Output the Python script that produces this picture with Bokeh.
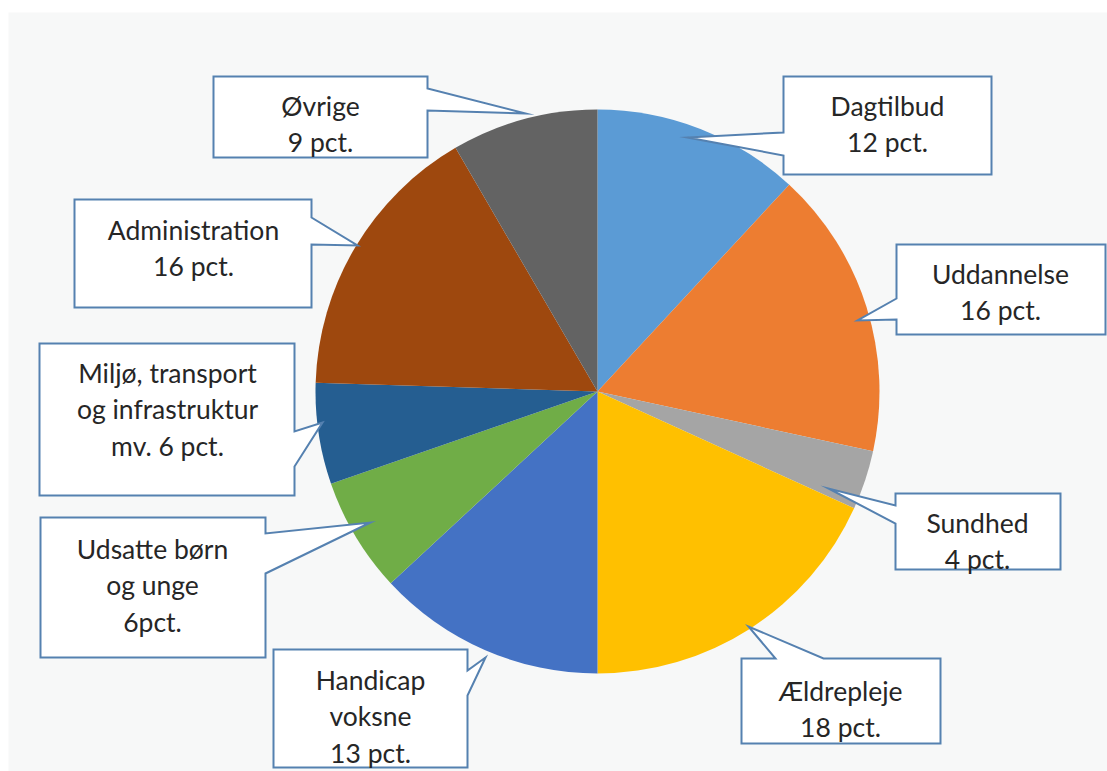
import math
from bokeh.plotting import figure
from bokeh.models import Range1d, ColumnDataSource
from bokeh.core.properties import value
from bokeh.embed import file_html
from bokeh.resources import INLINE

# ---- data ----
categories = ["Dagtilbud", "Uddannelse", "Sundhed", "Ældrepleje", "Handicap voksne",
              "Udsatte børn og unge", "Miljø, transport og infrastruktur mv.",
              "Administration", "Øvrige"]
shares = [11.9, 16.5, 3.4, 18.2, 13.1, 6.6, 5.8, 16.1, 8.4]
labels = ["Dagtilbud\n12 pct.", "Uddannelse\n16 pct.", "Sundhed\n4 pct.",
          "Ældrepleje\n18 pct.", "Handicap\nvoksne\n13 pct.",
          "Udsatte børn\nog unge\n6pct.", "Miljø, transport\nog infrastruktur\nmv. 6 pct.",
          "Administration\n16 pct.", "Øvrige\n9 pct."]
colors = ["#5B9BD5", "#ED7D31", "#A5A5A5", "#FFC000", "#4472C4",
          "#70AD47", "#255E91", "#9E480E", "#636363"]

# ---- layout (reference pixel coordinates) ----
W, H = 1107, 771
def Y(y):
    return H - y

CX, CY, R = 597, 391, 282
callouts = [
    dict(box=(783, 76, 991, 174), side="left", notch=(132, 155), tip=(687, 137), tx=887, ty=105),
    dict(box=(896, 244, 1105, 334), side="left", notch=(298, 319), tip=(857, 320), tx=1000, ty=273),
    dict(box=(895, 493, 1060, 569), side="left", notch=(505, 523), tip=(828, 488), tx=977, ty=522),
    dict(box=(741, 658, 940, 743), side="top", notch=(775, 823), tip=(748, 626), tx=840, ty=690),
    dict(box=(273, 649, 467, 767), side="right", notch=(670, 695), tip=(485, 657), tx=370, ty=679),
    dict(box=(40, 517, 265, 657), side="right", notch=(533, 573), tip=(370, 522), tx=152, ty=548),
    dict(box=(39, 343, 294, 495), side="right", notch=(431, 466), tip=(322, 422), tx=167, ty=372),
    dict(box=(74, 199, 311, 307), side="right", notch=(217, 244), tip=(357, 245), tx=193, ty=229),
    dict(box=(213, 76, 427, 157), side="right", notch=(88, 110), tip=(525, 113), tx=320, ty=105),
]
LINE_GAP = 36.5

p = figure(width=W, height=H, x_range=Range1d(0, W), y_range=Range1d(0, H),
           output_backend="svg", toolbar_location=None, min_border=0)
p.axis.visible = False
p.grid.visible = False
p.outline_line_color = None
p.background_fill_color = "white"
p.border_fill_color = "white"

# panel
p.quad(left=[8], right=[W], top=[Y(12)], bottom=[0], fill_color="#F7F8F8", line_color=None)

# pie
total = sum(shares)
starts, ends = [], []
cum = 0.0
for s in shares:
    a0 = math.pi / 2 - 2 * math.pi * cum / total
    cum += s
    a1 = math.pi / 2 - 2 * math.pi * cum / total
    starts.append(a0)
    ends.append(a1)
src = ColumnDataSource(dict(cat=categories, start=starts, end=ends, color=colors,
                            x=[CX] * len(shares), y=[Y(CY)] * len(shares)))
p.wedge(x="x", y="y", radius=R, start_angle="start", end_angle="end", direction="clock",
        fill_color="color", line_color=None, source=src)

# callouts
xs, ys = [], []
tx, ty, tt = [], [], []
for c, lab in zip(callouts, labels):
    x0, y0, x1, y1 = c["box"]
    n0, n1 = c["notch"]
    tpx, tpy = c["tip"]
    if c["side"] == "right":
        pts = [(x0, y0), (x1, y0), (x1, n0), (tpx, tpy), (x1, n1), (x1, y1), (x0, y1)]
    elif c["side"] == "left":
        pts = [(x0, y0), (x1, y0), (x1, y1), (x0, y1), (x0, n1), (tpx, tpy), (x0, n0)]
    else:
        pts = [(x0, y0), (n0, y0), (tpx, tpy), (n1, y0), (x1, y0), (x1, y1), (x0, y1)]
    xs.append([pt[0] for pt in pts])
    ys.append([Y(pt[1]) for pt in pts])
    for i, line in enumerate(lab.split("\n")):
        tx.append(c["tx"])
        ty.append(Y(c["ty"] + i * LINE_GAP))
        tt.append(line)

p.patches(xs, ys, fill_color="white", line_color="#5581B0", line_width=2, line_join="miter")
p.text(x=tx, y=ty, text=tt, text_align="center", text_baseline="middle",
       text_font=value("Lato"), text_font_size="26.5px", text_color="#262626")

open("out.html", "w").write(file_html(p, INLINE))
